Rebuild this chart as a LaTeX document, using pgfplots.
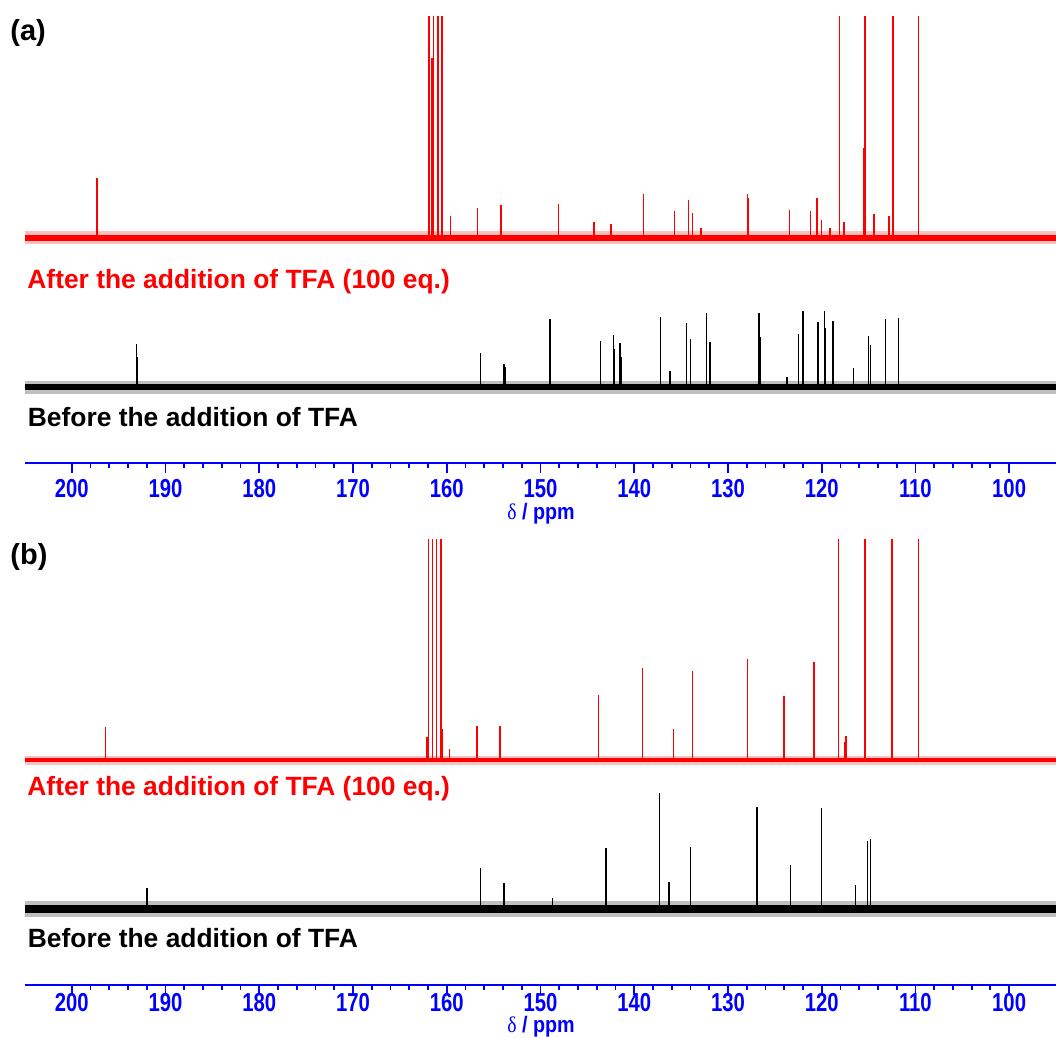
\documentclass[border=0pt]{standalone}
\usepackage{fontspec}
\setmainfont{Liberation Sans}
\newfontfamily\greekserif{Liberation Serif}
\usepackage{graphicx}
\usepackage{pgfplots}
\pgfplotsset{compat=1.18}
\usepackage{pgfplotstable}

% 13C NMR line lists: chemical shift (ppm) and line height above the baseline
% (heights of 600 are lines running off the top of the frame)
\pgfplotstableread{
ppm h
197.3 60
161.87 600
161.43 600
160.96 600
160.52 600
161.6 180
159.6 22
156.7 30
154.2 33
148.1 34
144.3 16
142.5 14
139.0 44
135.7 27
134.2 38
133.8 25
132.9 10
127.9 44
127.8 40
123.45 28
121.2 27
120.5 40
120.0 18
119.1 10
118.1 600
117.6 16
115.5 90
115.4 600
115.3 60
114.4 24
112.8 22
112.4 600
109.65 600
}\redA

\pgfplotstableread{
ppm h
193.1 43
193.0 30
156.4 34
153.9 23
153.8 20
149.0 68
143.6 46
142.2 52
142.1 38
141.5 44
141.4 30
137.2 70
136.2 16
134.4 64
134.0 48
132.3 74
131.9 45
126.7 74
126.6 50
123.7 10
122.45 53
122.0 76
120.4 65
119.7 76
119.6 59
118.8 66
116.6 19
115.0 51
114.8 42
113.2 68
111.8 69
}\blackA

\pgfplotstableread{
ppm h
196.4 33
161.96 600
161.5 600
161.07 600
160.6 600
162.1 23
160.5 31
159.7 11
156.8 34
154.3 34
143.8 65
139.1 92
135.8 31
133.8 89
127.9 101
124.0 64
120.8 98
118.2 600
117.4 24
117.5 18
115.4 600
112.5 600
109.65 600
}\redB

\pgfplotstableread{
ppm h
192.0 21
156.4 41
153.9 26
148.7 11
143.0 61
137.3 116
136.3 27
134.0 62
126.9 102
123.3 44
120.0 101
116.4 24
115.1 68
114.8 70
}\blackB

\pgfplotsset{
  nmr/.style={
    scale only axis, width=515.5pt, height=223pt,
    xmin=95, xmax=205, ymin=0, ymax=446, x dir=reverse,
    axis x line*=bottom, axis y line=none,
    x axis line style={blue, line width=1pt},
    xtick={100,110,...,200}, minor x tick num=4,
    tick align=outside,
    major tick length=5pt, minor tick length=2.5pt,
    every tick/.style={blue, line width=0.9pt},
    xticklabel style={blue, inner sep=0.5pt, yshift=-2.3pt,
                      font=\fontsize{13}{13}\selectfont\bfseries},
    xticklabel={\scalebox{0.78}[1]{\pgfmathprintnumber[assume math mode=true]{\tick}}},
    clip=true,
  },
  sticks/.style={line width=0.75pt, quiver={u=0, v=\thisrow{h}}},
}

\begin{document}
\begin{tikzpicture}
\useasboundingbox (0,0) rectangle (528pt,-519pt);

% ---------- panel (a) ----------
\begin{axis}[nmr, at={(12.5pt,-231.5pt)}, anchor=south west]
  \addplot[red, line width=6.5pt, opacity=0.25] coordinates {(205,225) (95,225)};
  \addplot[red, line width=3pt] coordinates {(205,225) (95,225)};
  \addplot[red, sticks] table[x=ppm, y expr=225] {\redA};
  \addplot[black, line width=6.5pt, opacity=0.25] coordinates {(205,76) (95,76)};
  \addplot[black, line width=3.2pt] coordinates {(205,76) (95,76)};
  \addplot[black, sticks] table[x=ppm, y expr=76] {\blackA};
\end{axis}

% ---------- panel (b) ----------
\begin{axis}[nmr, at={(12.5pt,-492.5pt)}, anchor=south west,
             xticklabel style={yshift=4pt}]
  \addplot[red, line width=4.5pt, opacity=0.25] coordinates {(205,225) (95,225)};
  \addplot[red, line width=2.2pt] coordinates {(205,225) (95,225)};
  \addplot[red, sticks] table[x=ppm, y expr=225] {\redB};
  \addplot[black, line width=8pt, opacity=0.25] coordinates {(205,76) (95,76)};
  \addplot[black, line width=4.2pt] coordinates {(205,76) (95,76)};
  \addplot[black, sticks] table[x=ppm, y expr=76] {\blackB};
\end{axis}

% ---------- labels ----------
\begin{scope}[every node/.style={inner sep=0pt, anchor=base west}]
  \node[font=\fontsize{14.5}{14.5}\selectfont\bfseries] at (5pt,-20.5pt) {(a)};
  \node[font=\fontsize{14.5}{14.5}\selectfont\bfseries] at (5pt,-282pt) {(b)};
  \node[red, font=\fontsize{13.2}{13.2}\selectfont\bfseries] at (13.5pt,-144pt) {After the addition of TFA (100 eq.)};
  \node[font=\fontsize{13.2}{13.2}\selectfont\bfseries] at (13.75pt,-213.3pt) {Before the addition of TFA};
  \node[red, font=\fontsize{13.2}{13.2}\selectfont\bfseries] at (13.5pt,-397.5pt) {After the addition of TFA (100 eq.)};
  \node[font=\fontsize{13.2}{13.2}\selectfont\bfseries] at (13.75pt,-473.7pt) {Before the addition of TFA};
\end{scope}
\begin{scope}[every node/.style={inner sep=0pt, anchor=base, blue, font=\fontsize{11.2}{11.2}\selectfont\bfseries}]
  \node at (270.5pt,-259.5pt) {\scalebox{0.88}[1]{{\greekserif\mdseries δ} / ppm}};
  \node at (270.5pt,-516.3pt) {\scalebox{0.88}[1]{{\greekserif\mdseries δ} / ppm}};
\end{scope}
\end{tikzpicture}
\end{document}
